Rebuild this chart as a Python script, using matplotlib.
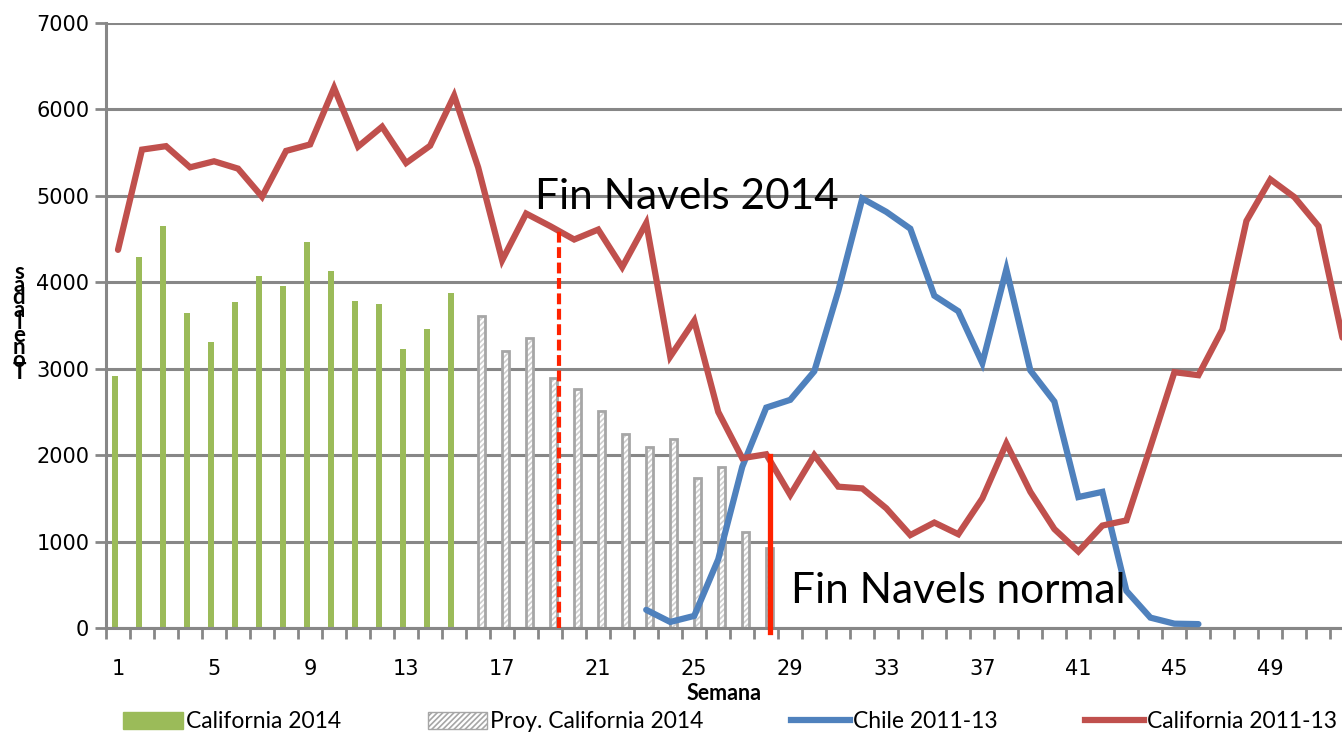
import numpy as np
import matplotlib
matplotlib.use("Agg")
import matplotlib.pyplot as plt
from matplotlib.patches import Patch
from matplotlib.lines import Line2D

# -----------------------------
# Data
# -----------------------------
weeks_cal14 = list(range(1, 16))
cal14 = [2915, 4290, 4655, 3650, 3310, 3775, 4075, 3960, 4470, 4130,
         3780, 3750, 3230, 3460, 3880]

weeks_proy = list(range(16, 29))
proy14 = [3605, 3200, 3355, 2895, 2760, 2510, 2240, 2095, 2190, 1730,
          1860, 1110, 920]

weeks_chile = list(range(23, 47))
chile = [210, 70, 140, 795, 1865, 2550, 2640, 2970, 3900, 4970, 4815, 4620,
         3845, 3665, 3065, 4150, 2980, 2620, 1515, 1575, 430, 120, 50, 45]

weeks_cal = list(range(1, 53))
cal_hist = [4375, 5535, 5575, 5330, 5400, 5315, 4990, 5520, 5595, 6250,
            5570, 5800, 5380, 5580, 6160, 5330, 4255, 4795, 4650, 4495,
            4610, 4175, 4685, 3140, 3555, 2500, 1965, 2010, 1540, 2000,
            1635, 1615, 1385, 1075, 1220, 1085, 1500, 2135, 1575, 1145,
            885, 1185, 1245, 2095, 2960, 2925, 3455, 4710, 5190, 4985,
            4650, 3360]

fin_2014_week = 19.35
fin_2014_top = 4600
fin_normal_week = 28.15
fin_normal_top = 1990

xtick_weeks = list(range(1, 53, 4))
y_ticks = list(range(0, 7001, 1000))

legend_labels = ["California 2014", "Proy. California 2014", "Chile 2011-13", "California 2011-13"]

GREEN = "#9BBB59"
RED = "#C0504D"
BLUE = "#4F81BD"
BRIGHT_RED = "#FF2200"
GRID = "#878787"

plt.rcParams["hatch.linewidth"] = 1.2

fig = plt.figure(figsize=(13.42, 7.36), dpi=100)
ax = fig.add_axes([106 / 1342, 1 - 628 / 736, 1 - 106 / 1342, (628 - 23) / 736])

bw = 0.27
# green bars (left half of the week slot)
ax.bar(np.array(weeks_cal14) - bw / 2, cal14, width=bw, color=GREEN, zorder=2)
# projected bars: hatch layer then outline
ax.bar(np.array(weeks_proy) + bw / 2, proy14, width=bw, facecolor="white",
       edgecolor="#CFCFCF", hatch="//////", linewidth=0, zorder=2)
ax.bar(np.array(weeks_proy) + bw / 2, proy14, width=bw, fill=False,
       edgecolor="#A6A6A6", linewidth=2.0, zorder=2.1)

ax.plot(weeks_chile, chile, color=BLUE, lw=4.5, solid_capstyle="round",
        solid_joinstyle="miter", zorder=3)
ax.plot(weeks_cal, cal_hist, color=RED, lw=4.5, solid_capstyle="round",
        solid_joinstyle="miter", zorder=3)

# end-of-season markers
ax.plot([fin_2014_week, fin_2014_week], [0, fin_2014_top], color=BRIGHT_RED,
        lw=3, dashes=(2.6, 1.1), zorder=4)
ax.plot([fin_normal_week, fin_normal_week], [-50, fin_normal_top], color=BRIGHT_RED,
        lw=3.8, zorder=4, clip_on=False)

ax.text(18.35, 4990, "Fin Navels 2014", fontsize=30.5, family=["Lato", "DejaVu Sans"],
        ha="left", va="center", zorder=5)
ax.text(29.05, 425, "Fin Navels normal", fontsize=30.5, family=["Lato", "DejaVu Sans"],
        ha="left", va="center", zorder=5)

ax.set_xlim(0.5, 51.98)
ax.set_ylim(0, 7000)
ax.set_yticks(y_ticks)
ax.set_xticks(xtick_weeks)
ax.set_xticks(np.arange(0.5, 52.5, 1), minor=True)
ax.tick_params(axis="x", which="major", length=0, pad=22, labelsize=15)
ax.tick_params(axis="x", which="minor", length=8, width=2, color=GRID)
ax.tick_params(axis="y", length=8, width=2, color=GRID, pad=4, labelsize=15)
ax.yaxis.grid(True, color=GRID, lw=2.2, zorder=0)
ax.set_axisbelow(True)

for s in ["top", "right"]:
    ax.spines[s].set_visible(False)
for s in ["left", "bottom"]:
    ax.spines[s].set_color(GRID)
    ax.spines[s].set_linewidth(2.2)

ax.set_xlabel("Semana", fontsize=15.5, fontweight="bold", family=["Lato", "DejaVu Sans"],
              labelpad=3)

# stacked y label, glyphs upright as in the original
fig.text(19 / 1342, 1 - 323 / 736, "\n".join(reversed("Toneladas")), fontsize=16,
         fontweight="bold", ha="center", va="center", linespacing=0.5,
         family=["Lato", "DejaVu Sans"])

handles = [Patch(facecolor=GREEN, edgecolor=GREEN),
           Patch(facecolor="white", edgecolor="#A6A6A6", hatch="//////"),
           Line2D([], [], color=BLUE, lw=4.5),
           Line2D([], [], color=RED, lw=4.5)]
fig.legend(handles, legend_labels, loc="center", bbox_to_anchor=(0.544, 1 - 722 / 736),
           ncol=4, frameon=False, prop={"family": ["Lato", "DejaVu Sans"], "size": 16.5},
           handlelength=2.6, handleheight=0.8, handletextpad=0.12, columnspacing=3.8,
           borderpad=0)

fig.savefig("out.png", dpi=100)
